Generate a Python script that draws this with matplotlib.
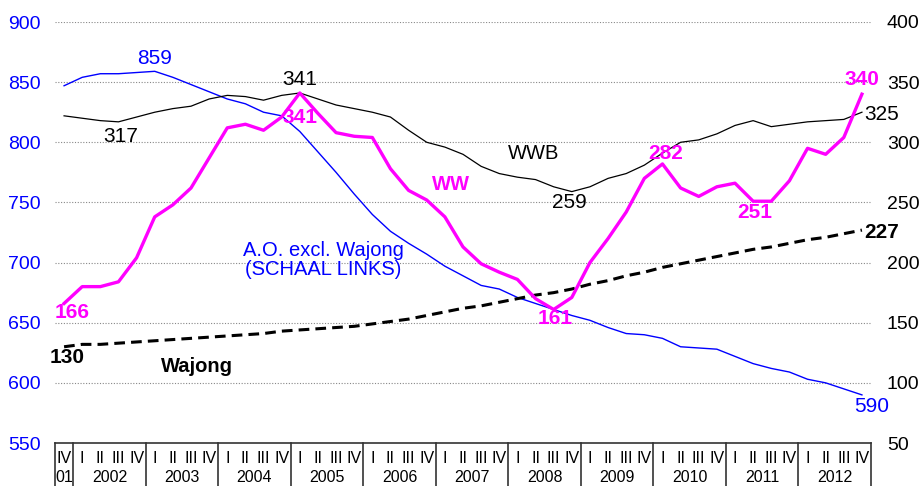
import numpy as np
import matplotlib
matplotlib.use("Agg")
import matplotlib.pyplot as plt
import matplotlib.transforms as mtransforms

plt.rcParams['font.family'] = ['Liberation Sans', 'DejaVu Sans']

# quarters 2001-IV .. 2012-IV
years = ['01', '2002', '2003', '2004', '2005', '2006', '2007', '2008', '2009', '2010', '2011', '2012']
quarters = ['IV'] + ['I', 'II', 'III', 'IV'] * 11

# A.O. excl. Wajong (left scale, x1000)
ao = [847, 854, 857, 857, 858, 859, 854, 848, 842, 836, 832, 825, 822, 809, 792,
      775, 757, 740, 726, 716, 707, 697, 689, 681, 678, 671, 666, 661, 656, 652,
      646, 641, 640, 637, 630, 629, 628, 622, 616, 612, 609, 603, 600, 595, 590]
# WWB (right scale)
wwb = [322, 320, 318, 317, 321, 325, 328, 330, 336, 339, 338, 335, 339, 341, 336,
       331, 328, 325, 321, 310, 300, 296, 290, 280, 274, 271, 269, 263, 259, 263,
       270, 274, 281, 291, 300, 302, 307, 314, 318, 313, 315, 317, 318, 319, 325]
# WW (right scale)
ww = [166, 180, 180, 184, 204, 238, 248, 262, 287, 312, 315, 310, 321, 341, 324,
      308, 305, 304, 278, 260, 252, 238, 213, 199, 192, 186, 170, 161, 171, 200,
      220, 242, 270, 282, 262, 255, 263, 266, 251, 251, 268, 295, 290, 304, 340]
# Wajong (right scale)
wajong = [130, 132, 132, 133, 134, 135, 136, 137, 138, 139, 140, 141, 143, 144, 145,
          146, 147, 149, 151, 153, 156, 159, 162, 164, 167, 170, 173, 175, 178, 182,
          185, 189, 192, 196, 199, 202, 205, 208, 211, 213, 216, 219, 221, 224, 227]

blue = '#0000ff'
magenta = '#ff00ff'

fig = plt.figure(figsize=(9.19, 4.86), dpi=100)
ax = fig.add_axes([55 / 919, 1 - 443 / 486, 816 / 919, 421 / 486])
ax2 = ax.twinx()

x = np.arange(len(quarters))

ax.plot(x, ao, color=blue, lw=1.0, zorder=3)
ax2.plot(x, wwb, color='black', lw=0.9, zorder=3)
ax2.plot(x, wajong, color='black', lw=2.2, ls=(0, (3.5, 2)), zorder=3)
ax2.plot(x, ww, color=magenta, lw=2.4, zorder=4)

ax.set_xlim(-0.5, len(quarters) - 0.5)
ax.set_ylim(550, 900)
ax2.set_ylim(50, 400)
ax.set_yticks(np.arange(550, 901, 50))
ax2.set_yticks(np.arange(50, 401, 50))

for v in np.arange(600, 901, 50):
    ax.axhline(v, color='#888888', lw=0.8, ls=(0, (1, 1.5)), zorder=1)

for a in (ax, ax2):
    for s in ['top', 'left', 'right', 'bottom']:
        a.spines[s].set_visible(False)
ax.spines['bottom'].set_visible(True)
ax.spines['bottom'].set_color('#333333')
ax.spines['bottom'].set_linewidth(1.2)

ax.tick_params(axis='y', length=0, pad=10.5, labelsize=14, labelcolor=blue)
ax2.tick_params(axis='y', length=0, pad=11.5, labelsize=14, labelcolor='black')
ax.set_xticks([])

# two-level category axis
trans = mtransforms.blended_transform_factory(ax.transData, ax.transAxes)
for i, q in enumerate(quarters):
    ax.text(i, -0.036, q, transform=trans, ha='center', va='center', fontsize=11.5)
bounds = [-0.5, 0.5] + [0.5 + 4 * k for k in range(1, 12)]
for b in bounds:
    ax.plot([b, b], [0, -0.12], transform=trans, color='#333333', lw=1.2, clip_on=False)
ax.text(0, -0.083, years[0], transform=trans, ha='center', va='center', fontsize=11.5)
for k, yr in enumerate(years[1:]):
    ax.text(2.5 + 4 * k, -0.083, yr, transform=trans, ha='center', va='center', fontsize=11.5)

# labels
fs = 15
ax.text(5.0, 870, '859', color=blue, fontsize=fs, ha='center', va='center')
ax.text(14.3, 702, 'A.O. excl. Wajong\n(SCHAAL LINKS)', color=blue, fontsize=14.5,
        ha='center', va='center', linespacing=1.0)
ax.text(44.56, 580, '590', color=blue, fontsize=fs, ha='center', va='center')

ax2.text(13.0, 352.6, '341', color='black', fontsize=fs, ha='center', va='center')
ax2.text(3.14, 304.4, '317', color='black', fontsize=fs, ha='center', va='center')
ax2.text(25.9, 290.3, 'WWB', color='black', fontsize=14.5, ha='center', va='center')
ax2.text(27.85, 250.3, '259', color='black', fontsize=fs, ha='center', va='center')
ax2.text(45.1, 322.7, '325', color='black', fontsize=fs, ha='center', va='center')

ax2.text(13.0, 320.2, '341', color=magenta, fontsize=fs, fontweight='bold', ha='center', va='center', zorder=5)
ax2.text(21.34, 264.5, 'WW', color=magenta, fontsize=14.5, fontweight='bold', ha='center', va='center')
ax2.text(0.44, 158.9, '166', color=magenta, fontsize=fs, fontweight='bold', ha='center', va='center')
ax2.text(27.08, 153.9, '161', color=magenta, fontsize=fs, fontweight='bold', ha='center', va='center')
ax2.text(33.2, 291.0, '282', color=magenta, fontsize=fs, fontweight='bold', ha='center', va='center')
ax2.text(38.11, 242.0, '251', color=magenta, fontsize=fs, fontweight='bold', ha='center', va='center')
ax2.text(44.0, 351.8, '340', color=magenta, fontsize=fs, fontweight='bold', ha='center', va='center')

ax2.text(0.16, 120.7, '130', color='black', fontsize=fs, fontweight='bold', ha='center', va='center')
ax2.text(7.33, 113.2, 'Wajong', color='black', fontsize=14.5, fontweight='bold', ha='center', va='center')
ax2.text(45.1, 225.4, '227', color='black', fontsize=fs, fontweight='bold', ha='center', va='center')

fig.savefig('out.png', dpi=100)
